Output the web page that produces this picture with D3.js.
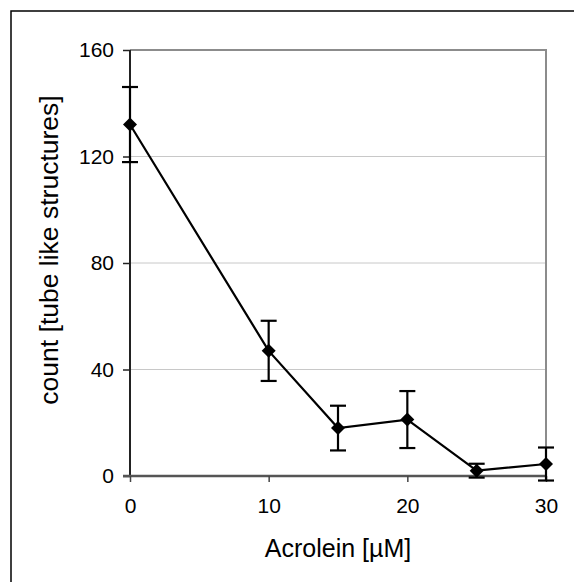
<!DOCTYPE html>
<html>
<head>
<meta charset="utf-8">
<script src="https://cdn.jsdelivr.net/npm/d3@7"></script>
<style>
  html, body { margin: 0; padding: 0; background: #fff; }
  svg { display: block; font-family: "Liberation Sans", Arial, Helvetica, sans-serif; }
</style>
</head>
<body>
<svg id="chart" width="574" height="582"></svg>
<script>
// Acrolein concentration (µM)
const concentrations = [0, 10, 15, 20, 25, 30];
// Mean count of tube-like structures
const counts = [132, 47, 18, 21.2, 2, 4.5];
// Error bar half-widths
const errors = [14.1, 11.3, 8.4, 10.7, 2.6, 6.2];
// Axis ticks
const xTicks = [0, 10, 20, 30];
const yTicks = [0, 40, 80, 120, 160];

const svg = d3.select("#chart");
const plot = { left: 130, right: 546, top: 50, bottom: 476 };

const x = d3.scaleLinear().domain([0, 30]).range([plot.left, plot.right]);
const y = d3.scaleLinear().domain([0, 160]).range([plot.bottom, plot.top]);

// Outer frame (open at right/bottom edges of the page)
svg.append("rect")
  .attr("x", 11).attr("y", 11)
  .attr("width", 600).attr("height", 600)
  .attr("fill", "none").attr("stroke", "#000").attr("stroke-width", 1.5);

// Horizontal gridlines
svg.append("g")
  .selectAll("line")
  .data(yTicks.filter(t => t > 0 && t < 160))
  .join("line")
  .attr("x1", plot.left).attr("x2", plot.right)
  .attr("y1", d => y(d)).attr("y2", d => y(d))
  .attr("stroke", "#c8c8c8").attr("stroke-width", 1);

// Plot area top and right borders
svg.append("path")
  .attr("d", `M${plot.left},${y(160)}H${x(30)}V${y(0)}`)
  .attr("fill", "none").attr("stroke", "#8c8c8c").attr("stroke-width", 2);

// Y axis
const yAxis = svg.append("g")
  .attr("transform", `translate(${plot.left},0)`)
  .call(d3.axisLeft(y).tickValues(yTicks).tickSize(7).tickPadding(9).tickFormat(d3.format("d")));
yAxis.select(".domain").attr("stroke", "#222").attr("stroke-width", 2).attr("d", `M0,${plot.top}V${plot.bottom}`);
yAxis.selectAll(".tick line").attr("stroke", "#222").attr("stroke-width", 1.5);
yAxis.selectAll(".tick text").attr("font-size", 21).attr("fill", "#000").attr("font-family", "Liberation Sans, Arial, sans-serif");

// X axis
const xAxis = svg.append("g")
  .attr("transform", `translate(0,${plot.bottom})`)
  .call(d3.axisBottom(x).tickValues(xTicks).tickSize(6).tickPadding(16).tickFormat(d3.format("d")));
xAxis.select(".domain").attr("stroke", "#555").attr("stroke-width", 2.5).attr("d", `M${plot.left - 7},0H${plot.right}`);
xAxis.selectAll(".tick line").attr("stroke", "#444").attr("stroke-width", 1.5);
xAxis.selectAll(".tick text").attr("font-size", 21).attr("fill", "#000").attr("font-family", "Liberation Sans, Arial, sans-serif");

// Axis titles
svg.append("text")
  .attr("x", (plot.left + plot.right) / 2).attr("y", 557)
  .attr("text-anchor", "middle").attr("font-size", 25).attr("fill", "#000")
  .text("Acrolein [µM]");

svg.append("text")
  .attr("transform", `translate(58,${(97 + 403) / 2}) rotate(-90)`)
  .attr("text-anchor", "middle").attr("font-size", 26.5).attr("fill", "#000")
  .text("count [tube like structures]");

const data = concentrations.map((c, i) => ({ c, v: counts[i], e: errors[i] }));

// Error bars
const eb = svg.append("g").attr("stroke", "#000").attr("stroke-width", 2.2);
const capW = 8;
eb.selectAll("line.v").data(data).join("line")
  .attr("x1", d => x(d.c)).attr("x2", d => x(d.c))
  .attr("y1", d => y(d.v + d.e)).attr("y2", d => y(d.v - d.e));
eb.selectAll("line.t").data(data).join("line")
  .attr("x1", d => x(d.c) - capW).attr("x2", d => x(d.c) + capW)
  .attr("y1", d => y(d.v + d.e)).attr("y2", d => y(d.v + d.e));
eb.selectAll("line.b").data(data).join("line")
  .attr("x1", d => x(d.c) - capW).attr("x2", d => x(d.c) + capW)
  .attr("y1", d => y(d.v - d.e)).attr("y2", d => y(d.v - d.e));

// Series line
svg.append("path")
  .datum(data)
  .attr("fill", "none").attr("stroke", "#000").attr("stroke-width", 2.2)
  .attr("d", d3.line().x(d => x(d.c)).y(d => y(d.v)));

// Diamond markers
svg.append("g").selectAll("path").data(data).join("path")
  .attr("transform", d => `translate(${x(d.c)},${y(d.v)})`)
  .attr("d", "M0,-7L7,0L0,7L-7,0Z")
  .attr("fill", "#000");
</script>
</body>
</html>
